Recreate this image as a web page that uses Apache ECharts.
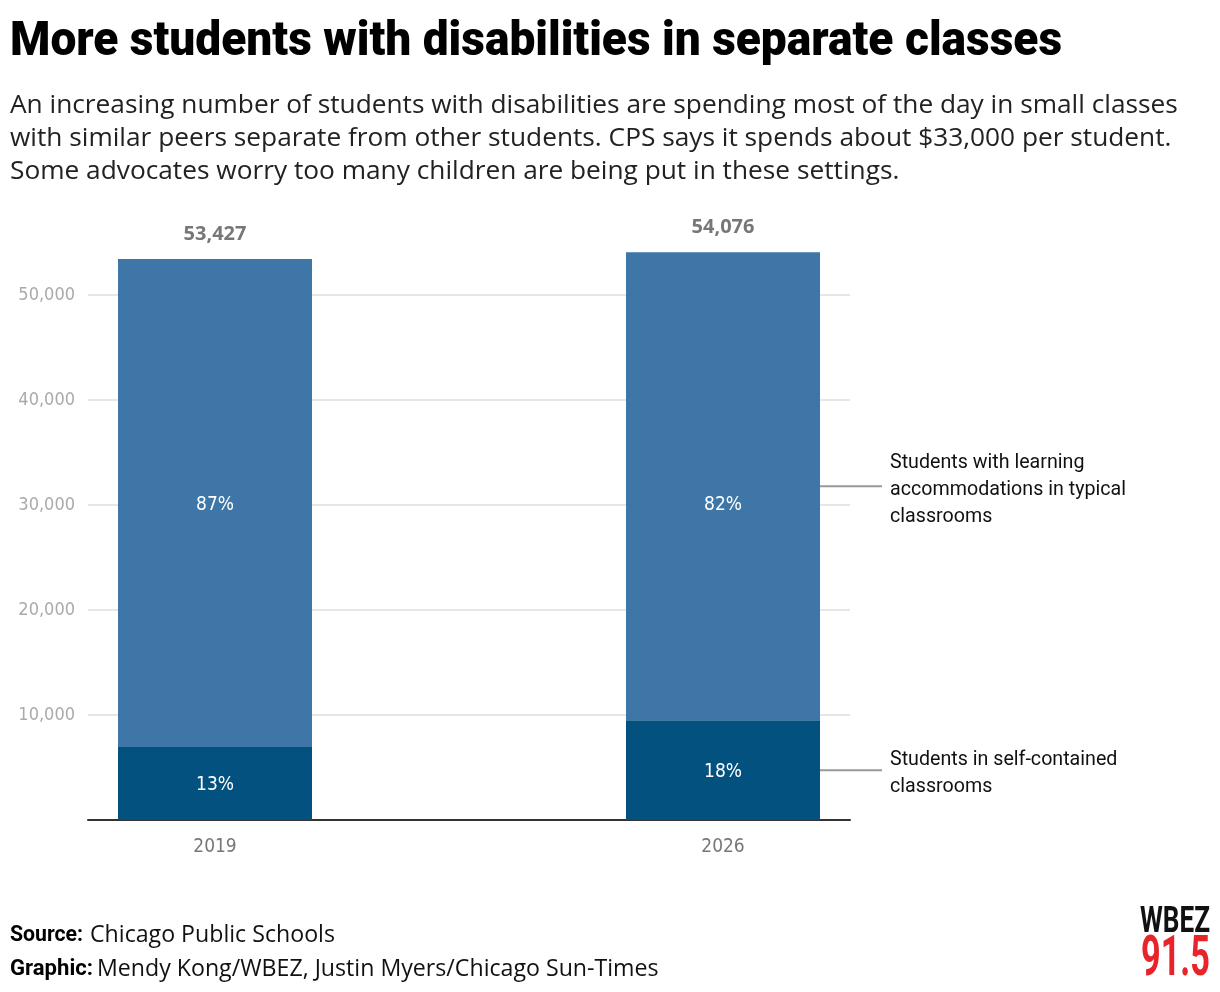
<!DOCTYPE html>
<html>
<head>
<meta charset="utf-8">
<script src="https://cdn.jsdelivr.net/npm/echarts@6/dist/echarts.min.js"></script>
<style>
  html, body { margin: 0; padding: 0; background: #fff; }
  #chart { width: 1220px; height: 992px; }
</style>
</head>
<body>
<div id="chart"></div>
<script>
// data
var years = ['2019', '2026'];
var totals = [53427, 54076];
var selfContained = [6946, 9500];
var typical = [totals[0] - selfContained[0], totals[1] - selfContained[1]];
var pctSelf = [13, 18];
var pctTypical = [87, 82];
var yTicks = [10000, 20000, 30000, 40000, 50000];

// the two years sit in slots 0 and 2, with an empty slot between them
var slots = [years[0], '', years[1]];
function spread(arr) { return [arr[0], '-', arr[1]]; }
function yearIdx(p) { return p.dataIndex === 0 ? 0 : 1; }

var narrow = "'DejaVu Sans Condensed', sans-serif";
var body = "'Open Sans', sans-serif";

var ctx = document.createElement('canvas').getContext('2d');
function measure(text, font) {
    ctx.font = font;
    return ctx.measureText(text).width;
}
function fmt(n) {
    return n.toLocaleString('en-US');
}

var chart = echarts.init(document.getElementById('chart'));

chart.setOption({
    animation: false,
    grid: {left: 88, right: 370, top: 295, bottom: 172},
    xAxis: {
        type: 'category',
        data: slots,
        axisTick: {show: false},
        axisLine: {lineStyle: {color: '#333', width: 2}},
        axisLabel: {margin: 18, color: '#777', fontSize: 19, fontFamily: narrow}
    },
    yAxis: {
        type: 'value',
        min: 0,
        max: 50000,
        interval: 10000,
        axisLine: {show: false},
        axisTick: {show: false},
        splitLine: {lineStyle: {color: '#e6e6e6', width: 2}},
        axisLabel: {
            margin: 13,
            color: '#aaa',
            fontSize: 18,
            fontFamily: narrow,
            formatter: function (v) {
                return yTicks.indexOf(v) >= 0 ? fmt(v) : '';
            }
        }
    },
    series: [
        {
            name: 'self',
            type: 'bar',
            stack: 'all',
            clip: false,
            barWidth: 194,
            itemStyle: {color: '#02517f'},
            label: {
                show: true,
                position: 'inside',
                offset: [0, 2],
                color: '#fff',
                fontSize: 19,
                fontFamily: narrow,
                formatter: function (p) { return pctSelf[yearIdx(p)] + '%'; }
            },
            data: spread(selfContained)
        },
        {
            name: 'typical',
            type: 'bar',
            stack: 'all',
            clip: false,
            barWidth: 194,
            itemStyle: {color: '#3d76a7'},
            label: {
                show: true,
                position: 'inside',
                offset: [0, 2],
                color: '#fff',
                fontSize: 19,
                fontFamily: narrow,
                formatter: function (p) { return pctTypical[yearIdx(p)] + '%'; }
            },
            data: [typical[0], '-', {value: typical[1], label: {offset: [0, 19]}}]
        },
        {
            // zero-height bar that only carries the total label
            name: 'total',
            type: 'bar',
            stack: 'all',
            clip: false,
            barWidth: 194,
            itemStyle: {color: 'transparent'},
            label: {
                show: true,
                position: 'top',
                distance: 15,
                color: '#777',
                fontSize: 20,
                fontWeight: 'bold',
                fontFamily: body,
                formatter: function (p) { return fmt(totals[yearIdx(p)]); }
            },
            data: [0, '-', 0]
        }
    ]
});

// annotation connectors from the 2026 bar segments
var barRight = chart.convertToPixel({gridIndex: 0}, [2, 0])[0] + 97;
var ySelf = chart.convertToPixel({gridIndex: 0}, [2, selfContained[1] / 2])[1];
var yTyp = chart.convertToPixel({gridIndex: 0}, [2, selfContained[1] + typical[1] / 2])[1];

// text fitting
var titleText = 'More students with disabilities in separate classes';
var titleFont = '900 48px Roboto';
var titleScale = 1052 / measure(titleText, titleFont);

var sub = [
    'An increasing number of students with disabilities are spending most of the day in small classes',
    'with similar peers separate from other students. CPS says it spends about $33,000 per student.',
    'Some advocates worry too many children are being put in these settings.'
];
var subSize = 25 * 1168 / measure(sub[0], '25px Open Sans');

var footSize = 20 * 245 / measure('Chicago Public Schools', '20px Open Sans');
var srcScale = 73 / measure('Source:', 'bold 22px Roboto');
var grScale = 83 / measure('Graphic:', 'bold 22px Roboto');

var annoScale = 236 / measure('accommodations in typical', '21px Roboto');
var annoStyle = {fontSize: 21, fontFamily: 'Roboto', fill: '#111', lineHeight: 27, verticalAlign: 'middle'};

var wbezScale = 70 / measure('WBEZ', 'bold 37px Roboto');
var freqScale = 69 / measure('91.5', 'bold 56px Roboto');

chart.setOption({
    graphic: [
        {
            type: 'text', x: 10, y: 43, scaleX: titleScale,
            style: {text: titleText, fontSize: 48, fontWeight: 900, fontFamily: 'Roboto', fill: '#000',
                verticalAlign: 'middle'}
        },
        {
            type: 'text', x: 10, y: 89,
            style: {text: sub.join('\n'), fontSize: subSize, lineHeight: 33, fontFamily: body, fill: '#222'}
        },
        {
            type: 'line',
            shape: {x1: barRight, y1: yTyp, x2: barRight + 62, y2: yTyp},
            style: {stroke: '#999', lineWidth: 2}
        },
        {
            type: 'line',
            shape: {x1: barRight, y1: ySelf, x2: barRight + 62, y2: ySelf},
            style: {stroke: '#999', lineWidth: 2}
        },
        {
            type: 'text', x: 890, y: yTyp + 4, scaleX: annoScale,
            style: Object.assign({text: 'Students with learning\naccommodations in typical\nclassrooms'}, annoStyle)
        },
        {
            type: 'text', x: 890, y: ySelf + 3, scaleX: annoScale,
            style: Object.assign({text: 'Students in self-contained\nclassrooms'}, annoStyle)
        },
        {
            type: 'text', x: 10, y: 935, scaleX: srcScale,
            style: {text: 'Source:', fontSize: 22, fontWeight: 'bold', fontFamily: 'Roboto', fill: '#000', verticalAlign: 'middle'}
        },
        {
            type: 'text', x: 90, y: 935,
            style: {text: 'Chicago Public Schools', fontSize: footSize, fontFamily: body, fill: '#111', verticalAlign: 'middle'}
        },
        {
            type: 'text', x: 10, y: 969, scaleX: grScale,
            style: {text: 'Graphic:', fontSize: 22, fontWeight: 'bold', fontFamily: 'Roboto', fill: '#000', verticalAlign: 'middle'}
        },
        {
            type: 'text', x: 97, y: 969,
            style: {text: 'Mendy Kong/WBEZ, Justin Myers/Chicago Sun-Times', fontSize: footSize, fontFamily: body,
                fill: '#111', verticalAlign: 'middle'}
        },
        {
            type: 'text', x: 1140, y: 923, scaleX: wbezScale,
            style: {text: 'WBEZ', fontSize: 37, fontWeight: 'bold', fontFamily: 'Roboto', fill: '#111', verticalAlign: 'middle'}
        },
        {
            type: 'text', x: 1141, y: 961, scaleX: freqScale,
            style: {text: '91.5', fontSize: 56, fontWeight: 'bold', fontFamily: 'Roboto', fill: '#e8242a', verticalAlign: 'middle'}
        }
    ]
});
</script>
</body>
</html>
